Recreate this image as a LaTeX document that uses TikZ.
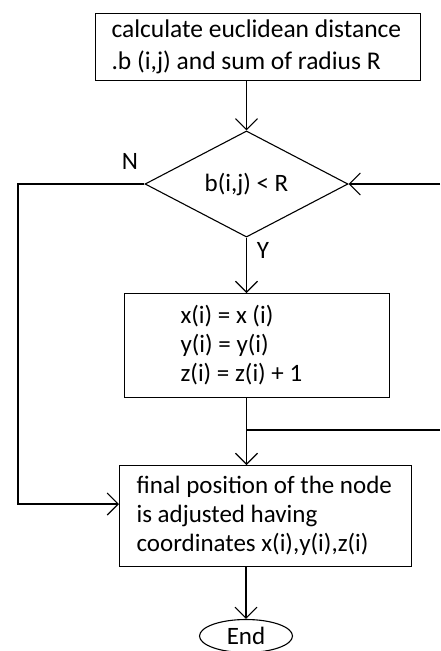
\documentclass[tikz,border=0pt]{standalone}
\usepackage{fontspec}
\setmainfont{Carlito}
\usetikzlibrary{arrows.meta,shapes.geometric}

\begin{document}
\begin{tikzpicture}[x=1pt,y=-1pt,line width=1.1pt,
  every node/.style={font=\fontsize{25}{29}\selectfont},
  procbox/.style={draw,rectangle,anchor=north west,align=flush left,inner ysep=0pt,
    execute at begin node={\spaceskip=0pt\xspaceskip=0pt}},
  flowarr/.style={-{Straight Barb[length=11pt,width=22pt]}}]
\useasboundingbox (0,0) rectangle (440,651);
% ---- blocks ----
\node[procbox,minimum width=325,minimum height=67,text width=293,inner xsep=16,
  font=\fontsize{25.5}{32}\selectfont] (calc) at (95,13)
  {calculate euclidean distance\\.b (i,j) and sum of radius R};
\node[draw,diamond,minimum width=203,minimum height=84,inner sep=0pt] (cond) at (246.5,184) {b(i,j) < R};
\node[procbox,minimum width=265,minimum height=104,text width=153,inner xsep=56] (upd) at (124,293)
  {x(i) = x (i)\\y(i) = y(i)\\z(i) = z(i) + 1};
\node[procbox,minimum width=288,minimum height=101,text width=258,inner xsep=17] (final) at (119,465)
  {final position of the node\\is adjusted having\\coordinates x(i),y(i),z(i)};
\node[draw,ellipse,minimum width=93,minimum height=33,inner sep=0pt] (stop) at (246,636) {End};
% labels
\node (nlab) at (130,161) {N};
\node (ylab) at (263,250) {Y};
% ---- connectors ----
\coordinate (rin) at (440,184);
\coordinate (rout) at (440,430);
\coordinate (jn) at (cond.south |- rout);
\coordinate (lb) at (18,504);
\draw[flowarr] (cond.north |- calc.south) -- (cond.north);
\draw[flowarr] (rin) -- (cond.east);
\draw[flowarr] (cond.south) -- (cond.south |- upd.north);
\draw[flowarr] (cond.south |- upd.south) -- (cond.south |- final.north);
\draw (jn) -- (rout);
\draw[flowarr] (cond.west) -| (lb) -- (lb -| final.west);
\draw[flowarr] (stop.north |- final.south) -- (stop.north);
\end{tikzpicture}
\end{document}
